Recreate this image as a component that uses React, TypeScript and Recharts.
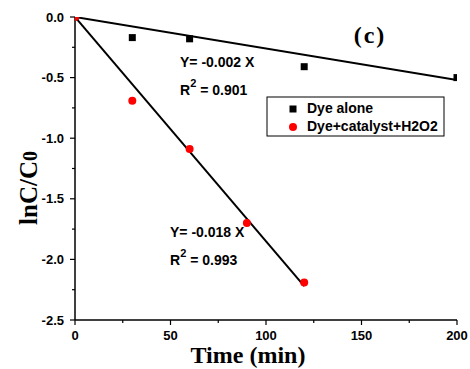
import { ComposedChart, Line, Scatter, XAxis, YAxis, Customized } from 'recharts';

// measured points
const dyeAloneTime = [0, 30, 60, 120, 200];
const dyeAloneLnC = [0, -0.17, -0.18, -0.41, -0.5];
const catalystTime = [0, 30, 60, 90, 120];
const catalystLnC = [0, -0.69, -1.09, -1.7, -2.19];

// drawn fit lines (end points)
const dyeFitTime = [0, 200];
const dyeFitLnC = [0, -0.52];
const catFitTime = [0, 120];
const catFitLnC = [0, -2.22];

const xTicks = [0, 25, 50, 75, 100, 125, 150, 175, 200];
const yTicks = [0, -0.25, -0.5, -0.75, -1, -1.25, -1.5, -1.75, -2, -2.25, -2.5];

const zip = (xs: number[], ys: number[]) => xs.map((x, i) => ({ x, y: ys[i] }));

const dyeAlone = zip(dyeAloneTime, dyeAloneLnC);
const catalyst = zip(catalystTime, catalystLnC);
const dyeFit = zip(dyeFitTime, dyeFitLnC);
const catFit = zip(catFitTime, catFitLnC);

const sans = '"Liberation Sans", Arial, sans-serif';
const serif = '"Liberation Serif", "Times New Roman", serif';

const XTick = ({ x, y, payload }: any) => {
  const major = payload.value % 50 === 0;
  return (
    <g>
      <line x1={x} x2={x} y1={y} y2={y + (major ? 5 : 3)} stroke="#000" strokeWidth={1.2} />
      {major && (
        <text x={x} y={y + 20} textAnchor="middle" fontFamily={sans} fontWeight="bold" fontSize={13} fill="#000">
          {payload.value}
        </text>
      )}
    </g>
  );
};

const YTick = ({ x, y, payload }: any) => {
  const v = payload.value;
  const major = Math.abs(v * 2 - Math.round(v * 2)) < 1e-6;
  return (
    <g>
      <line x1={x} x2={x - (major ? 5 : 3)} y1={y} y2={y} stroke="#000" strokeWidth={1.2} />
      {major && (
        <text x={x - 11} y={y} dy="0.36em" textAnchor="end" fontFamily={sans} fontWeight="bold" fontSize={13} fill="#000">
          {v.toFixed(1)}
        </text>
      )}
    </g>
  );
};

const Square = ({ cx, cy }: any) => <rect x={cx - 3.5} y={cy - 3.5} width={7} height={7} fill="#000" />;
const Dot = ({ cx, cy }: any) => <circle cx={cx} cy={cy} r={4} fill="#ff0000" />;

const Notes = () => (
  <g fontFamily={sans} fontWeight="bold" fontSize={14} fill="#000">
    <text x={370} y={43} textAnchor="middle" fontFamily={serif} fontSize={24} letterSpacing={2}>(c)</text>
    <text x={180} y={67}>Y= -0.002 X</text>
    <text x={180} y={95}>R<tspan dy={-8} fontSize={11}>2</tspan><tspan dy={8}> = 0.901</tspan></text>
    <text x={170} y={237}>Y= -0.018 X</text>
    <text x={170} y={265}>R<tspan dy={-8} fontSize={11}>2</tspan><tspan dy={8}> = 0.993</tspan></text>
    <rect x={267} y={97} width={177} height={39} fill="#fff" stroke="#000" strokeWidth={1} />
    <rect x={289.5} y={105.5} width={7} height={7} fill="#000" />
    <text x={307} y={113}>Dye alone</text>
    <circle cx={293} cy={127} r={4} fill="#ff0000" />
    <text x={307} y={131}>Dye+catalyst+H2O2</text>
    <text x={248} y={363} textAnchor="middle" fontFamily={serif} fontSize={24}>Time (min)</text>
    <text transform="translate(37,188) rotate(-90)" textAnchor="middle" fontFamily={serif} fontSize={25}>
      lnC/C<tspan fontSize={20}>0</tspan>
    </text>
  </g>
);

export default function App() {
  return (
    <div style={{ position: 'absolute', left: 0, top: 0, width: 470, height: 369, background: '#fff' }}>
      <ComposedChart width={470} height={369} margin={{ top: 17, right: 13, bottom: 0, left: 0 }}>
        <XAxis
          type="number"
          dataKey="x"
          domain={[0, 200]}
          ticks={xTicks}
          interval={0}
          allowDataOverflow
          tickLine={false}
          tickSize={0}
          tickMargin={0}
          tick={<XTick />}
          axisLine={{ stroke: '#000', strokeWidth: 1.5 }}
          height={49}
        />
        <YAxis
          type="number"
          dataKey="y"
          domain={[-2.5, 0]}
          ticks={yTicks}
          interval={0}
          allowDataOverflow
          tickLine={false}
          tickSize={0}
          tickMargin={0}
          tick={<YTick />}
          axisLine={{ stroke: '#000', strokeWidth: 1.5 }}
          width={75}
        />
        <Line data={dyeFit} dataKey="y" stroke="#000" strokeWidth={2} dot={false} isAnimationActive={false} />
        <Line data={catFit} dataKey="y" stroke="#000" strokeWidth={2} dot={false} isAnimationActive={false} />
        <Scatter data={dyeAlone} dataKey="y" shape={<Square />} isAnimationActive={false} />
        <Scatter data={catalyst} dataKey="y" shape={<Dot />} isAnimationActive={false} />
        <Customized component={Notes} />
      </ComposedChart>
    </div>
  );
}
